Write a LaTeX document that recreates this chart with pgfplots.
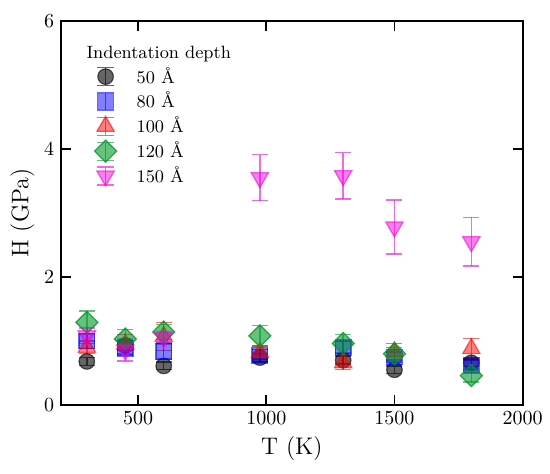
\documentclass[border=0pt]{standalone}
\usepackage{pgfplots}
\pgfplotsset{compat=1.18}
\definecolor{cgray}{RGB}{0,0,0}
\definecolor{cblue}{RGB}{0,0,255}
\definecolor{cred}{RGB}{255,0,0}
\definecolor{cgreen}{RGB}{0,150,40}
\definecolor{cmag}{RGB}{240,0,220}
\pgfplotsset{
  errleg/.style={
    legend image code/.code={%
      \path[draw=none, fill=none] (-6pt,-4.5pt) rectangle (6pt,4.5pt);
      \draw[overlay, ##1, mark=none, line width=0.7pt, draw opacity=0.6] (0pt,-4.5pt) -- (0pt,4.5pt) (-4.2pt,4.5pt) -- (4.2pt,4.5pt) (-4.2pt,-4.5pt) -- (4.2pt,-4.5pt);
      \draw[overlay, mark repeat=2,mark phase=2,##1] plot coordinates {(-5pt,0pt) (0pt,0pt) (5pt,0pt)};
    }
  },
  myser/.style={
    color=#1, only marks, errleg,
    /pgfplots/error bars/y dir=both,
    /pgfplots/error bars/y explicit,
    /pgfplots/error bars/error bar style={line width=0.7pt, draw=#1, draw opacity=0.6},
    /pgfplots/error bars/error mark options={rotate=90, mark size=4pt, draw=#1, draw opacity=0.6, line width=0.7pt},
  },
}
\begin{document}
\begin{tikzpicture}
\begin{axis}[
  scale only axis,
  width=230.7pt, height=192.1pt,
  xmin=200, xmax=2000, ymin=0, ymax=6,
  xtick={500,1000,1500,2000},
  ytick={0,2,4,6},
  /pgf/number format/1000 sep={},
  tick align=inside,
  major tick length=5pt,
  axis line style={line width=1pt},
  tick style={line width=0.9pt, black},
  xlabel={T (K)}, ylabel={H (GPa)},
  label style={font=\large},
  xlabel style={yshift=1pt},
  ylabel style={yshift=-2pt},
  legend cell align=left,
  legend style={draw=none, fill=none, font=\fontsize{8.9}{10.5}\selectfont,
    at={(0,1)}, anchor=north west, xshift=13pt, yshift=-8.8pt,
    row sep=0pt, column sep=8pt,
    nodes={inner sep=1.5pt}},
]
\addlegendimage{empty legend}
\addlegendentry{\hspace*{-25pt}Indentation depth}

\addplot[myser=cgray, mark=*, mark size=3.9pt,
  mark options={fill=cgray, fill opacity=0.6, draw=cgray, draw opacity=0.6, line width=0.6pt}]
coordinates {
 (300,0.68) +- (0,0.06)
 (450,0.93) +- (0,0.08)
 (600,0.61) +- (0,0.06)
 (975,0.74) +- (0,0.06)
 (1300,0.70) +- (0,0.06)
 (1500,0.55) +- (0,0.06)
 (1800,0.66) +- (0,0.06)
};
\addlegendentry{50 \AA}

\addplot[myser=cblue, mark=square*, mark size=3.9pt,
  mark options={fill=cblue, fill opacity=0.5, draw=cblue, draw opacity=0.6, line width=0.6pt}]
coordinates {
 (300,1.00) +- (0,0.12)
 (450,0.88) +- (0,0.10)
 (600,0.84) +- (0,0.13)
 (975,0.77) +- (0,0.10)
 (1300,0.90) +- (0,0.10)
 (1500,0.75) +- (0,0.08)
 (1800,0.62) +- (0,0.08)
};
\addlegendentry{80 \AA}

\addplot[myser=cred, mark=triangle*, mark size=5pt,
  mark options={fill=cred, fill opacity=0.5, draw=cred, draw opacity=0.6, line width=0.6pt}]
coordinates {
 (300,0.90) +- (0,0.10)
 (450,0.95) +- (0,0.15)
 (600,1.07) +- (0,0.22)
 (975,0.82) +- (0,0.10)
 (1300,0.66) +- (0,0.11)
 (1500,0.83) +- (0,0.13)
 (1800,0.88) +- (0,0.16)
};
\addlegendentry{100 \AA}

\addplot[myser=cgreen, mark=square*, mark size=3.9pt,
  mark options={rotate=45, fill=cgreen, fill opacity=0.6, draw=cgreen, draw opacity=0.8, line width=0.6pt}]
coordinates {
 (300,1.29) +- (0,0.18)
 (450,1.03) +- (0,0.15)
 (600,1.14) +- (0,0.12)
 (975,1.08) +- (0,0.16)
 (1300,0.96) +- (0,0.14)
 (1500,0.80) +- (0,0.10)
 (1800,0.46) +- (0,0.10)
};
\addlegendentry{120 \AA}

\addplot[myser=cmag, mark=triangle*, mark size=5pt,
  mark options={rotate=180, fill=cmag, fill opacity=0.5, draw=cmag, draw opacity=0.6, line width=0.6pt}]
coordinates {
 (300,1.08) +- (0,0.12)
 (450,0.86) +- (0,0.17)
 (600,1.05) +- (0,0.10)
 (975,3.55) +- (0,0.36)
 (1300,3.58) +- (0,0.36)
 (1500,2.78) +- (0,0.42)
 (1800,2.55) +- (0,0.38)
};
\addlegendentry{150 \AA}
\end{axis}
\pgfresetboundingbox
\path[use as bounding box] ([xshift=-30.6pt,yshift=-34.5pt]current axis.south west) rectangle ([xshift=13.7pt,yshift=10.4pt]current axis.north east);
\end{tikzpicture}
\end{document}
